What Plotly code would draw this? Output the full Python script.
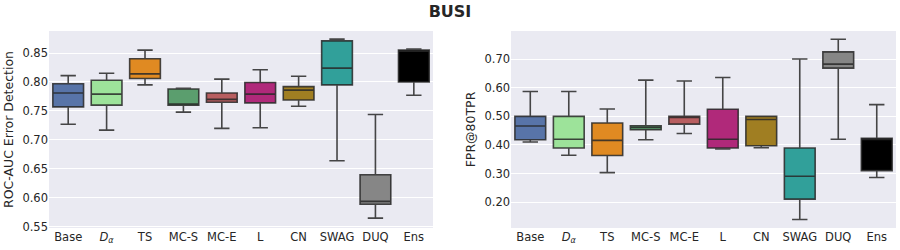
import plotly.graph_objects as go

categories = ["Base", "<i>D</i><sub><i>α</i></sub>", "TS", "MC-S", "MC-E", "L", "CN", "SWAG", "DUQ", "Ens"]
colors = ["#5874a8", "#9de39a", "#e08a22", "#5b9e6e", "#b85e60", "#b0297a", "#a07e22", "#31a09a", "#868686", "#000000"]

# ROC-AUC Error Detection (left)
auc_low = [0.727, 0.717, 0.795, 0.748, 0.720, 0.721, 0.758, 0.664, 0.565, 0.777]
auc_q1 = [0.757, 0.760, 0.806, 0.760, 0.765, 0.764, 0.769, 0.795, 0.589, 0.800]
auc_med = [0.781, 0.779, 0.814, 0.761, 0.770, 0.779, 0.786, 0.824, 0.594, 0.855]
auc_q3 = [0.797, 0.803, 0.840, 0.788, 0.781, 0.799, 0.792, 0.871, 0.640, 0.855]
auc_high = [0.811, 0.815, 0.855, 0.789, 0.805, 0.821, 0.810, 0.874, 0.744, 0.857]

# FPR@80TPR (right)
fpr_low = [0.410, 0.364, 0.303, 0.418, 0.440, 0.386, 0.390, 0.139, 0.420, 0.286]
fpr_q1 = [0.418, 0.389, 0.363, 0.453, 0.473, 0.389, 0.397, 0.210, 0.669, 0.310]
fpr_med = [0.466, 0.420, 0.416, 0.461, 0.499, 0.420, 0.489, 0.290, 0.683, 0.420]
fpr_q3 = [0.500, 0.500, 0.477, 0.467, 0.500, 0.525, 0.500, 0.389, 0.726, 0.423]
fpr_high = [0.587, 0.587, 0.526, 0.627, 0.624, 0.636, 0.500, 0.701, 0.770, 0.541]

fig = go.Figure()

def add_boxes(low, q1, med, q3, high, xa, ya):
    for i, c in enumerate(categories):
        fig.add_trace(go.Box(
            x=[c], lowerfence=[low[i]], q1=[q1[i]], median=[med[i]], q3=[q3[i]], upperfence=[high[i]],
            fillcolor=colors[i], line=dict(color="rgba(40,40,40,0.85)", width=1.6),
            width=0.8, whiskerwidth=0.5, boxpoints=False, showlegend=False,
            xaxis=xa, yaxis=ya, hoverinfo="skip",
        ))

add_boxes(auc_low, auc_q1, auc_med, auc_q3, auc_high, "x", "y")
add_boxes(fpr_low, fpr_q1, fpr_med, fpr_q3, fpr_high, "x2", "y2")

axis_common = dict(showgrid=True, gridcolor="white", gridwidth=1.2, zeroline=False,
                   showline=False, ticks="", tickfont=dict(family="DejaVu Sans", size=11.5, color="#262626"))

fig.update_layout(
    width=900, height=250,
    margin=dict(l=49, r=4, t=31, b=22),
    paper_bgcolor="white", plot_bgcolor="#eaeaf2",
    font=dict(family="DejaVu Sans", color="#262626"),
    title=dict(text="<b>BUSI</b>", x=0.5, xanchor="center", y=0.955, yanchor="middle",
               font=dict(family="DejaVu Sans", size=16, color="#262626")),
    xaxis=dict(domain=[0, 0.4534], type="category", categoryorder="array", categoryarray=categories,
               range=[-0.5, 9.5], **{**axis_common, "showgrid": False}),
    xaxis2=dict(domain=[0.5455, 1], type="category", categoryorder="array", categoryarray=categories,
                range=[-0.5, 9.5], anchor="y2", **{**axis_common, "showgrid": False}),
    yaxis=dict(range=[0.548, 0.888], tickvals=[0.55, 0.60, 0.65, 0.70, 0.75, 0.80, 0.85], tickformat=".2f",
               title=dict(text="ROC-AUC Error Detection", font=dict(size=12.5, family="DejaVu Sans", color="#262626"), standoff=6),
               **axis_common),
    yaxis2=dict(range=[0.109, 0.799], tickvals=[0.2, 0.3, 0.4, 0.5, 0.6, 0.7], tickformat=".2f", anchor="x2",
                title=dict(text="FPR@80TPR", font=dict(size=12.5, family="DejaVu Sans", color="#262626"), standoff=6),
                **axis_common),
)

fig.write_html("out.html", config={"displayModeBar": False},
               post_script="document.body.style.margin='0';document.body.style.overflow='hidden';")
